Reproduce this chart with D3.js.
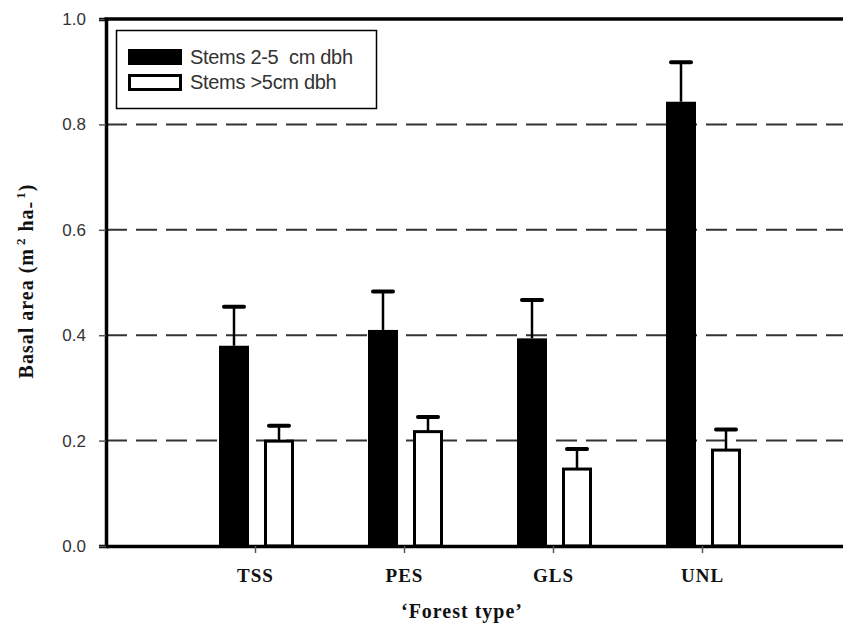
<!DOCTYPE html>
<html lang="en">
<head>
<meta charset="utf-8">
<title>Basal area by forest type</title>
<script src="https://d3js.org/d3.v7.min.js"></script>
<style>
  body { margin: 0; background: #fff; }
</style>
</head>
<body>
<script>
// data
var forestTypes = ["TSS", "PES", "GLS", "UNL"];
var small = [0.380, 0.410, 0.394, 0.843];      // stems 2-5 cm dbh
var smallErr = [0.074, 0.073, 0.073, 0.075];
var large = [0.199, 0.217, 0.146, 0.182];      // stems >5cm dbh
var largeErr = [0.029, 0.028, 0.038, 0.039];
var yTicks = [0.0, 0.2, 0.4, 0.6, 0.8, 1.0];
var gridTicks = [0.2, 0.4, 0.6, 0.8];
var seriesNames = ["Stems 2-5  cm dbh", "Stems >5cm dbh"];

var w = 843, h = 639;
var margin = {top: 19, left: 106, bottom: 93};
var serif = "'Liberation Serif', 'Times New Roman', serif";
var sans = "Arial, 'Liberation Sans', sans-serif";

var svg = d3.select("body").append("svg")
  .attr("width", w).attr("height", h);

// categories sit at 1..4 on an axis running 0..5
var x = d3.scaleLinear().domain([0, 5]).range([margin.left, 851]);
var y = d3.scaleLinear().domain([0, 1]).range([h - margin.bottom, margin.top]);

// dashed grid
svg.selectAll("line.grid")
  .data(gridTicks)
  .enter().append("line")
  .attr("class", "grid")
  .attr("x1", margin.left).attr("x2", w)
  .attr("y1", function(d) { return y(d); })
  .attr("y2", function(d) { return y(d); })
  .attr("stroke", "#333")
  .attr("stroke-width", 2)
  .attr("stroke-dasharray", "21,9");

// bars + error bars
var bw = 30;
function drawSeries(vals, errs, off, fill) {
  var g = svg.append("g");
  vals.forEach(function(v, i) {
    var cx = x(i + 1) + off;
    var top = y(v + errs[i]);
    g.append("line")
      .attr("x1", cx).attr("x2", cx)
      .attr("y1", y(v)).attr("y2", top)
      .attr("stroke", "#000").attr("stroke-width", 2.5);
    g.append("line")
      .attr("x1", cx - 10).attr("x2", cx + 10)
      .attr("y1", top).attr("y2", top)
      .attr("stroke", "#000").attr("stroke-width", 4)
      .attr("stroke-linecap", "round");
    if (fill === "#000") {
      g.append("rect")
        .attr("x", cx - bw / 2).attr("y", y(v))
        .attr("width", bw).attr("height", y(0) - y(v))
        .attr("fill", "#000");
    } else {
      g.append("rect")
        .attr("x", cx - bw / 2 + 1.5).attr("y", y(v))
        .attr("width", bw - 3).attr("height", y(0) - y(v))
        .attr("fill", "#fff").attr("stroke", "#000").attr("stroke-width", 3);
    }
  });
}
drawSeries(small, smallErr, -21, "#000");
drawSeries(large, largeErr, 24, "#fff");

// y axis
var yAxis = d3.axisLeft(y).tickValues(yTicks)
  .tickFormat(d3.format(".1f")).tickSize(7).tickPadding(13);
var gy = svg.append("g")
  .attr("transform", "translate(" + margin.left + ",0)")
  .call(yAxis);
gy.select(".domain").attr("stroke", "#000").attr("stroke-width", 3.5);
gy.selectAll(".tick line").attr("stroke", "#555").attr("stroke-width", 1.5);
gy.selectAll(".tick text")
  .style("font-family", sans).style("font-size", "17px").attr("fill", "#333");

// x axis
var xAxis = d3.axisBottom(x).tickValues([1, 2, 3, 4])
  .tickFormat(function(d) { return forestTypes[d - 1]; })
  .tickSize(7).tickSizeOuter(0).tickPadding(16);
var gx = svg.append("g")
  .attr("transform", "translate(0," + y(0) + ")")
  .call(xAxis);
gx.select(".domain").attr("stroke", "#000").attr("stroke-width", 3.5);
gx.selectAll(".tick line").attr("stroke", "#555").attr("stroke-width", 1.5);
gx.selectAll(".tick text")
  .style("font-family", serif).style("font-weight", "bold")
  .style("font-size", "19px").style("letter-spacing", "1px")
  .attr("fill", "#111");

// top frame line
svg.append("line")
  .attr("x1", margin.left - 1.5).attr("x2", w)
  .attr("y1", y(1)).attr("y2", y(1))
  .attr("stroke", "#000").attr("stroke-width", 3.5);

// axis titles
svg.append("text")
  .attr("x", 462).attr("y", 618)
  .attr("text-anchor", "middle")
  .style("font-family", serif).style("font-weight", "bold")
  .style("font-size", "20px").style("letter-spacing", "1px")
  .attr("fill", "#111")
  .text("\u2018Forest type\u2019");

var yt = svg.append("text")
  .attr("transform", "translate(33,281) rotate(-90)")
  .attr("text-anchor", "middle")
  .style("font-family", serif).style("font-weight", "bold")
  .style("font-size", "20px").style("letter-spacing", "1px")
  .attr("fill", "#111");
yt.append("tspan").text("Basal area (m");
yt.append("tspan").attr("dx", 3).attr("dy", -8).style("font-size", "13px").text("2");
yt.append("tspan").attr("dy", 8).text(" ha");
yt.append("tspan").attr("dy", 3).text("-");
yt.append("tspan").attr("dx", 2).attr("dy", -11).style("font-size", "13px").text("1");
yt.append("tspan").attr("dy", 8).text(")");

// legend
var lg = svg.append("g");
lg.append("rect")
  .attr("x", 116.5).attr("y", 30.5).attr("width", 260).attr("height", 78)
  .attr("fill", "#fff").attr("stroke", "#000").attr("stroke-width", 1.5);
lg.append("rect")
  .attr("x", 128).attr("y", 49).attr("width", 54).attr("height", 16)
  .attr("fill", "#000");
lg.append("rect")
  .attr("x", 129.5).attr("y", 75.5).attr("width", 51).attr("height", 14)
  .attr("fill", "#fff").attr("stroke", "#000").attr("stroke-width", 3);
lg.selectAll("text.leg")
  .data(seriesNames)
  .enter().append("text")
  .attr("class", "leg")
  .attr("x", 190)
  .attr("y", function(d, i) { return 64 + i * 25; })
  .style("font-family", sans).style("font-size", "20px")
  .style("letter-spacing", "-0.3px")
  .attr("fill", "#333")
  .style("white-space", "pre")
  .text(function(d) { return d; });
</script>
</body>
</html>
